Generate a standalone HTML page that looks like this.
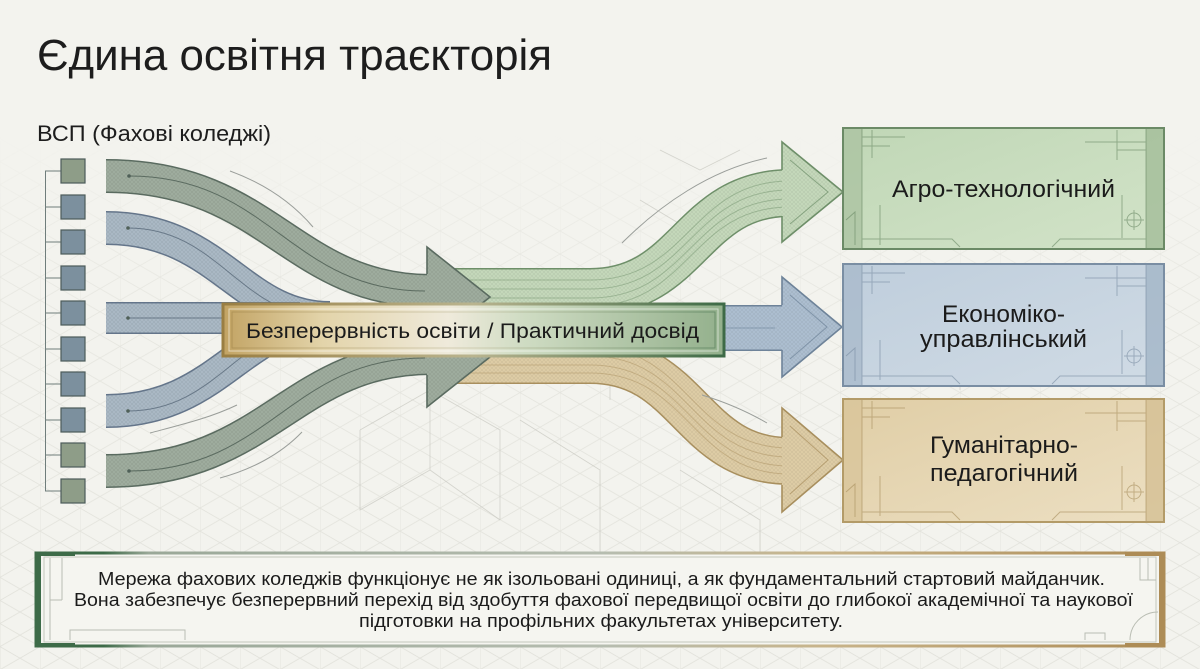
<!DOCTYPE html>
<html><head><meta charset="utf-8">
<style>html,body{margin:0;padding:0;background:#f3f3ee;overflow:hidden}svg{display:block}</style>
</head><body>
<svg width="1200" height="669" viewBox="0 0 1200 669" xmlns="http://www.w3.org/2000/svg" font-family="'Liberation Sans','DejaVu Sans',sans-serif">
<defs>
  <pattern id="grid" width="40" height="23.094" patternUnits="userSpaceOnUse">
    <path d="M0,0 L40,23.094 M0,23.094 L40,0 M0,0 V23.094" stroke="#cfcfc6" stroke-width="0.8" fill="none"/>
  </pattern>
  <linearGradient id="fadeG" x1="0" y1="0" x2="0" y2="1">
    <stop offset="0" stop-color="#000"/>
    <stop offset="0.2" stop-color="#000"/>
    <stop offset="0.45" stop-color="#fff" stop-opacity="0.7"/>
    <stop offset="1" stop-color="#fff"/>
  </linearGradient>
  <mask id="gridMask"><rect width="1200" height="669" fill="url(#fadeG)"/></mask>
  <pattern id="hx" width="4" height="4" patternUnits="userSpaceOnUse">
    <path d="M0,0 L4,4 M4,0 L0,4" stroke="#000" stroke-opacity="0.13" stroke-width="0.7"/>
  </pattern>
  <linearGradient id="gAgro" x1="0" y1="0" x2="1" y2="1">
    <stop offset="0" stop-color="#c0d7b6"/><stop offset="1" stop-color="#d2e3c8"/>
  </linearGradient>
  <linearGradient id="gEcon" x1="0" y1="0" x2="1" y2="1">
    <stop offset="0" stop-color="#bfcedc"/><stop offset="1" stop-color="#d0dbe5"/>
  </linearGradient>
  <linearGradient id="gHum" x1="0" y1="0" x2="1" y2="1">
    <stop offset="0" stop-color="#e0cea6"/><stop offset="1" stop-color="#ecdfc2"/>
  </linearGradient>
  <linearGradient id="gLabel" x1="0" y1="0" x2="1" y2="0">
    <stop offset="0" stop-color="#c2a363"/>
    <stop offset="0.2" stop-color="#e3d4aa"/>
    <stop offset="0.45" stop-color="#efeadb"/>
    <stop offset="0.6" stop-color="#cfdcc3"/>
    <stop offset="1" stop-color="#93b08c"/>
  </linearGradient>
  <linearGradient id="gLabelB" x1="0" y1="0" x2="1" y2="0">
    <stop offset="0" stop-color="#9a7e42"/>
    <stop offset="0.5" stop-color="#b9b48f"/>
    <stop offset="1" stop-color="#3d6a46"/>
  </linearGradient>
  <linearGradient id="gBot" x1="0" y1="0" x2="1" y2="0">
    <stop offset="0" stop-color="#3d6b48"/>
    <stop offset="0.06" stop-color="#3d6b48"/>
    <stop offset="0.1" stop-color="#9aa898"/>
    <stop offset="0.5" stop-color="#b6bdb0"/>
    <stop offset="0.7" stop-color="#c8b48a"/>
    <stop offset="1" stop-color="#ad8c56"/>
  </linearGradient>
</defs>

<rect width="1200" height="669" fill="#f3f3ee"/>
<rect width="1200" height="669" fill="url(#grid)" mask="url(#gridMask)" opacity="0.5"/>

<g stroke="#c8c8c0" stroke-width="0.9" fill="none" opacity="0.7">
  <path d="M360,430 L430,390 L500,430 L500,520 M430,390 L430,470 L360,510 L360,430 M430,470 L500,520"/>
  <path d="M610,260 L610,400 M640,200 L690,230 L690,280 M660,150 L700,170 L740,150"/>
  <path d="M520,420 L600,470 L600,560 M960,390 L960,300"/>
  <path d="M680,470 L760,520 L760,560"/>
</g>

<text x="37" y="70" font-size="44" fill="#1d1d1d" textLength="515" lengthAdjust="spacingAndGlyphs">Єдина освітня траєкторія</text>
<text x="37" y="141" font-size="22" fill="#1d1d1d" textLength="234" lengthAdjust="spacingAndGlyphs">ВСП (Фахові коледжі)</text>

<g stroke="#6f7d7b" stroke-width="1" fill="none">
  <path d="M45.5,171 V491"/>
  <path d="M45,171 H61 M45,207 H61 M45,242 H61 M45,278 H61 M45,313 H61 M45,349 H61 M45,384 H61 M45,420 H61 M45,455 H61 M45,491 H61"/>
</g>
<g stroke="#4c5b5a" stroke-width="1.2">
  <rect x="61" y="159" width="24" height="24" fill="#8e9d88"/>
  <rect x="61" y="195" width="24" height="24" fill="#7c909e"/>
  <rect x="61" y="230" width="24" height="24" fill="#7c909e"/>
  <rect x="61" y="266" width="24" height="24" fill="#7c909e"/>
  <rect x="61" y="301" width="24" height="24" fill="#7c909e"/>
  <rect x="61" y="337" width="24" height="24" fill="#7c909e"/>
  <rect x="61" y="372" width="24" height="24" fill="#7c909e"/>
  <rect x="61" y="408" width="24" height="24" fill="#7c909e"/>
  <rect x="61" y="443" width="24" height="24" fill="#8e9d88"/>
  <rect x="61" y="479" width="24" height="24" fill="#8e9d88"/>
</g>

<g fill="none" stroke-linecap="butt">
  <path d="M440,292 L590,292 C690,292 690,193 790,193" stroke="#6e8f69" stroke-width="48"/>
  <path d="M440,292 L590,292 C690,292 690,193 790,193" stroke="#c5d9bb" stroke-width="45"/>
  <path d="M440,292 L590,292 C690,292 690,193 790,193" stroke="url(#hx)" stroke-width="45" opacity="0.5"/>
  <g stroke="#6e8f69" stroke-width="1" opacity="0.45">
    <path d="M440,280 L590,280 C690,280 690,181 790,181"/>
    <path d="M440,289 L590,289 C690,289 690,190 790,190"/>
    <path d="M440,298 L590,298 C690,298 690,199 790,199"/>
    <path d="M440,306 L590,306 C690,306 690,207 790,207"/>
  </g>
  <path d="M440,360 L590,360 C690,360 690,461 790,461" stroke="#a88f5e" stroke-width="48"/>
  <path d="M440,360 L590,360 C690,360 690,461 790,461" stroke="#dfcda6" stroke-width="45"/>
  <path d="M440,360 L590,360 C690,360 690,461 790,461" stroke="url(#hx)" stroke-width="45" opacity="0.5"/>
  <g stroke="#a88f5e" stroke-width="1" opacity="0.45">
    <path d="M440,347 L590,347 C690,347 690,448 790,448"/>
    <path d="M440,356 L590,356 C690,356 690,457 790,457"/>
    <path d="M440,365 L590,365 C690,365 690,466 790,466"/>
    <path d="M440,373 L590,373 C690,373 690,474 790,474"/>
  </g>
  <path d="M700,328 L790,328" stroke="#6e8399" stroke-width="46"/>
  <path d="M700,328 L790,328" stroke="#adbfd1" stroke-width="43"/>
  <path d="M700,328 L790,328" stroke="url(#hx)" stroke-width="43" opacity="0.5"/>
  <path d="M700,328 L775,328" stroke="#6e8399" stroke-width="1" opacity="0.6"/>
</g>

<polygon points="782,142 843,192 782,242" fill="#c5d9bb"/>
<polygon points="782,142 843,192 782,242" fill="url(#hx)" opacity="0.5"/>
<polyline points="782,170 782,142 843,192 782,242 782,216" fill="none" stroke="#6e8f69" stroke-width="1.6"/>
<polyline points="790,160 828,192 790,224" fill="none" stroke="#6e8f69" stroke-width="1" opacity="0.7"/>

<polygon points="782,277 842,327 782,377" fill="#adbfd1"/>
<polygon points="782,277 842,327 782,377" fill="url(#hx)" opacity="0.5"/>
<polyline points="782,305 782,277 842,327 782,377 782,350" fill="none" stroke="#6e8399" stroke-width="1.6"/>
<polyline points="790,295 827,327 790,359" fill="none" stroke="#6e8399" stroke-width="1" opacity="0.7"/>

<polygon points="782,408 843,460 782,512" fill="#dfcda6"/>
<polygon points="782,408 843,460 782,512" fill="url(#hx)" opacity="0.5"/>
<polyline points="782,437 782,408 843,460 782,512 782,485" fill="none" stroke="#a88f5e" stroke-width="1.6"/>
<polyline points="790,426 828,460 790,494" fill="none" stroke="#a88f5e" stroke-width="1" opacity="0.7"/>

<g fill="none" stroke-linecap="butt">
  <path d="M106,228 C220,228 240,318 330,318" stroke="#64758a" stroke-width="34"/>
  <path d="M106,228 C220,228 240,318 330,318" stroke="#abbac6" stroke-width="31"/>
  <path d="M106,228 C220,228 240,318 330,318" stroke="url(#hx)" stroke-width="31" opacity="0.6"/>
  <path d="M106,411 C220,411 240,322 330,322" stroke="#64758a" stroke-width="34"/>
  <path d="M106,411 C220,411 240,322 330,322" stroke="#abbac6" stroke-width="31"/>
  <path d="M106,411 C220,411 240,322 330,322" stroke="url(#hx)" stroke-width="31" opacity="0.6"/>
  <path d="M106,318 L300,318" stroke="#64758a" stroke-width="32"/>
  <path d="M106,318 L300,318" stroke="#abbac6" stroke-width="29"/>
  <path d="M106,318 L300,318" stroke="url(#hx)" stroke-width="29" opacity="0.6"/>
  <g stroke="#4f6070" stroke-width="1" opacity="0.7">
    <path d="M128,228 C220,228 240,318 330,318"/>
    <path d="M128,411 C220,411 240,322 330,322"/>
    <path d="M128,318 L300,318"/>
  </g>
  <path d="M106,176 C270,176 290,291 432,291" stroke="#5a6b60" stroke-width="34"/>
  <path d="M106,176 C270,176 290,291 432,291" stroke="#a0ae9f" stroke-width="31"/>
  <path d="M106,176 C270,176 290,291 432,291" stroke="url(#hx)" stroke-width="31" opacity="0.6"/>
  <path d="M106,471 C270,471 290,358 432,358" stroke="#5a6b60" stroke-width="34"/>
  <path d="M106,471 C270,471 290,358 432,358" stroke="#a0ae9f" stroke-width="31"/>
  <path d="M106,471 C270,471 290,358 432,358" stroke="url(#hx)" stroke-width="31" opacity="0.6"/>
  <g stroke="#46574d" stroke-width="1" opacity="0.75">
    <path d="M129,176 C270,176 290,291 425,291"/>
    <path d="M129,471 C270,471 290,358 425,358"/>
  </g>
</g>
<g fill="#4f6058">
  <circle cx="129" cy="176" r="1.8"/><circle cx="129" cy="471" r="1.8"/>
  <circle cx="128" cy="228" r="1.8"/><circle cx="128" cy="411" r="1.8"/><circle cx="128" cy="318" r="1.8"/>
</g>

<polygon points="427,247 490,297 427,347" fill="#a0ae9f"/>
<polygon points="427,247 490,297 427,347" fill="url(#hx)" opacity="0.6"/>
<polyline points="427,274 427,247 490,297 427,347" fill="none" stroke="#5a6b60" stroke-width="1.6"/>
<polygon points="427,307 490,357 427,407" fill="#a0ae9f"/>
<polygon points="427,307 490,357 427,407" fill="url(#hx)" opacity="0.6"/>
<polyline points="427,307 490,357 427,407 427,375" fill="none" stroke="#5a6b60" stroke-width="1.6"/>

<g fill="none" stroke="#9a9e9a" stroke-width="1">
  <path d="M230,171 C260,182 290,200 313,227"/>
  <path d="M150,433 C180,425 210,418 237,405"/>
  <path d="M220,478 C250,470 280,455 302,432"/>
  <path d="M622,243 C660,205 710,170 767,158"/>
  <path d="M702,395 C725,402 748,412 767,423"/>
</g>

<rect x="223" y="304" width="501" height="52" fill="url(#gLabel)" stroke="url(#gLabelB)" stroke-width="3"/>
<rect x="229" y="309" width="489" height="42" fill="none" stroke="#ffffff" stroke-opacity="0.55" stroke-width="1"/>
<rect x="232" y="312" width="483" height="36" fill="none" stroke="url(#gLabelB)" stroke-opacity="0.5" stroke-width="1"/>
<text x="246" y="338" font-size="21.5" fill="#1b1b1b" textLength="453" lengthAdjust="spacingAndGlyphs">Безперервність освіти / Практичний досвід</text>

<g>
  <rect x="843" y="128" width="321" height="121" fill="url(#gAgro)" stroke="#6b8a66" stroke-width="2"/>
  <rect x="844" y="129" width="18" height="119" fill="#a9c2a0" opacity="0.75"/>
  <rect x="1146" y="129" width="17" height="119" fill="#a2bd99" opacity="0.8"/>
  <g stroke="#6b8a66" stroke-width="1" fill="none" opacity="0.6">
    <path d="M862,129 V248 M1146,129 V248"/>
    <path d="M862,137 H905 M872,130 V158 M862,146 H890"/>
    <path d="M1085,142 H1146 M1117,130 V160 M1117,150 H1146"/>
    <path d="M862,239 H952 L960,247 M1052,247 L1060,239 H1146"/>
    <path d="M880,205 V245 M1122,195 V238"/>
    <circle cx="1134" cy="220" r="7"/><path d="M1124,220 H1144 M1134,210 V230"/>
    <path d="M846,220 L855,212 V245"/>
  </g>
  <text x="892" y="197" font-size="24" fill="#1b1b1b" textLength="223" lengthAdjust="spacingAndGlyphs">Агро-технологічний</text>
</g>

<g>
  <rect x="843" y="264" width="321" height="122" fill="url(#gEcon)" stroke="#7a8ea3" stroke-width="2"/>
  <rect x="844" y="265" width="18" height="120" fill="#a7b8c9" opacity="0.75"/>
  <rect x="1146" y="265" width="17" height="120" fill="#a3b5c7" opacity="0.8"/>
  <g stroke="#7a8ea3" stroke-width="1" fill="none" opacity="0.6">
    <path d="M862,265 V385 M1146,265 V385"/>
    <path d="M862,273 H905 M872,266 V294 M862,282 H890"/>
    <path d="M1085,278 H1146 M1117,266 V296 M1117,286 H1146"/>
    <path d="M862,376 H952 L960,384 M1052,384 L1060,376 H1146"/>
    <path d="M880,340 V380 M1122,330 V374"/>
    <circle cx="1134" cy="356" r="7"/><path d="M1124,356 H1144 M1134,346 V366"/>
    <path d="M846,356 L855,348 V381"/>
  </g>
  <text x="942" y="322" font-size="24" fill="#1b1b1b" textLength="123" lengthAdjust="spacingAndGlyphs">Економіко-</text>
  <text x="920" y="347" font-size="24" fill="#1b1b1b" textLength="167" lengthAdjust="spacingAndGlyphs">управлінський</text>
</g>

<g>
  <rect x="843" y="399" width="321" height="123" fill="url(#gHum)" stroke="#b39b68" stroke-width="2"/>
  <rect x="844" y="400" width="18" height="121" fill="#d8c49a" opacity="0.75"/>
  <rect x="1146" y="400" width="17" height="121" fill="#d4bf93" opacity="0.8"/>
  <g stroke="#a88f5e" stroke-width="1" fill="none" opacity="0.6">
    <path d="M862,400 V521 M1146,400 V521"/>
    <path d="M862,408 H905 M872,401 V429 M862,417 H890"/>
    <path d="M1085,413 H1146 M1117,401 V431 M1117,421 H1146"/>
    <path d="M862,512 H952 L960,520 M1052,520 L1060,512 H1146"/>
    <path d="M880,476 V516 M1122,466 V510"/>
    <circle cx="1134" cy="492" r="7"/><path d="M1124,492 H1144 M1134,482 V502"/>
    <path d="M846,492 L855,484 V517"/>
  </g>
  <text x="930" y="453" font-size="24" fill="#1b1b1b" textLength="148" lengthAdjust="spacingAndGlyphs">Гуманітарно-</text>
  <text x="930" y="481" font-size="24" fill="#1b1b1b" textLength="148" lengthAdjust="spacingAndGlyphs">педагогічний</text>
</g>

<g>
  <rect x="36" y="553" width="1128" height="93" fill="#f5f5f0" stroke="url(#gBot)" stroke-width="3"/>
  <rect x="35" y="552" width="6" height="95" fill="#3d6b48"/>
  <rect x="35" y="552" width="40" height="4" fill="#3d6b48"/>
  <rect x="35" y="643" width="40" height="4" fill="#3d6b48"/>
  <rect x="1159" y="552" width="6" height="95" fill="#ad8c56"/>
  <rect x="1125" y="552" width="40" height="4" fill="#ad8c56"/>
  <rect x="1125" y="643" width="40" height="4" fill="#ad8c56"/>
  <rect x="44" y="557" width="1112" height="85" fill="none" stroke="#c4c8bd" stroke-width="1"/>
  <g stroke="#b9bdb3" stroke-width="1" fill="none">
    <path d="M50,558 V640 M62,558 V600 M50,600 H62"/>
    <path d="M70,640 V630 H185 V640"/>
    <path d="M1148,558 V580 M1140,558 V580 H1156"/>
    <path d="M1105,640 V633 H1085 V640 M1130,640 A28,28 0 0 1 1158,612"/>
  </g>
  <g font-size="18.5" fill="#1b1b1b">
    <text x="98" y="585" textLength="1007" lengthAdjust="spacingAndGlyphs">Мережа фахових коледжів функціонує не як ізольовані одиниці, а як фундаментальний стартовий майданчик.</text>
    <text x="74" y="606" textLength="1059" lengthAdjust="spacingAndGlyphs">Вона забезпечує безперервний перехід від здобуття фахової передвищої освіти до глибокої академічної та наукової</text>
    <text x="359" y="627" textLength="484" lengthAdjust="spacingAndGlyphs">підготовки на профільних факультетах університету.</text>
  </g>
</g>
</svg>
</body></html>
